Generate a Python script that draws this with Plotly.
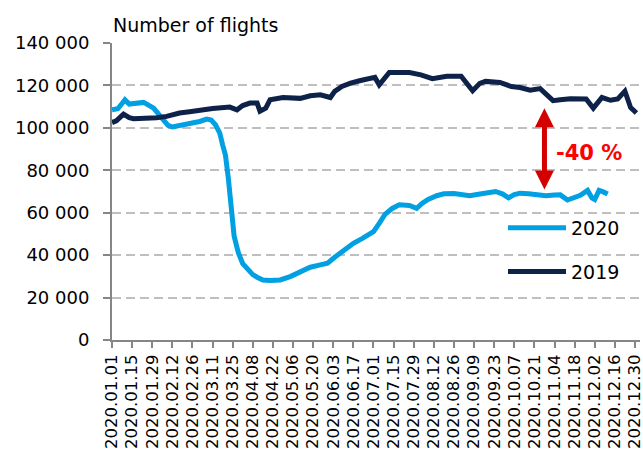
import pandas as pd
import plotly.graph_objects as go

# ---- data (day offset from 2020-01-01, number of flights) ----
days_2019 = [0, 3, 8, 12, 15, 24, 31, 38, 47, 54, 61, 70, 82, 87, 91, 96, 101, 103, 107, 110,
             119, 131, 138, 145, 152, 155, 160, 166, 173, 180, 183, 186, 193, 207, 215, 223,
             233, 243, 251, 256, 260, 270, 278, 284, 291, 298, 301, 307, 312, 319, 330, 335,
             341, 347, 352, 357, 361, 365]
flights_2019 = [102500, 103300, 106500, 104800, 104300, 104400, 104800, 105400, 107000, 107600,
                108500, 109100, 109800, 108500, 110500, 111700, 111700, 107900, 109300, 113200,
                114300, 113900, 115100, 115600, 114300, 117200, 119500, 121100, 122300, 123000,
                123800, 120300, 126100, 126100, 125000, 123200, 124300, 124300, 117500, 121000,
                121900, 121400, 119500, 119000, 117800, 118500, 116500, 112800, 113200, 113700,
                113600, 109300, 114300, 113000, 113600, 117300, 109500, 107000]

days_2020 = [0, 4, 7, 9, 12, 17, 22, 26, 29, 33, 36, 39, 42, 47, 52, 57, 61, 66, 69, 72, 75,
             77, 79, 81, 82, 83, 84, 85, 87, 88, 91, 94, 98, 101, 105, 110, 117, 124, 131, 138,
             145, 150, 155, 159, 164, 168, 174, 180, 182, 186, 190, 195, 200, 207, 212, 216,
             220, 226, 231, 238, 245, 249, 255, 261, 267, 272, 276, 280, 284, 290, 296, 302,
             308, 312, 317, 321, 326, 331, 334, 336, 339, 342, 345]
flights_2020 = [108500, 109000, 111500, 113200, 111200, 111500, 112000, 110500, 109300, 106000,
                103800, 101200, 100400, 101000, 101900, 102600, 103000, 104100, 103700, 101500,
                97500, 92000, 87000, 76000, 69000, 61000, 53000, 49000, 43500, 41000, 36000,
                33500, 30800, 29600, 28300, 28000, 28300, 29900, 32200, 34300, 35400, 36200,
                39000, 41200, 44000, 45600, 47800, 49800, 51100, 55000, 59200, 62000, 63700,
                63400, 62100, 64500, 66300, 68000, 68900, 69000, 68400, 68000, 68700, 69500,
                70000, 68800, 67000, 68500, 69200, 68900, 68500, 68000, 68300, 68400, 66000,
                67000, 68200, 70500, 67000, 66200, 70500, 69800, 68800]

series_names = ["2020", "2019"]
y_title = "Number of flights"
change_label = "-40 %"
arrow_day = 301
arrow_top_value = 110000
arrow_bottom_value = 70900
label_day = 332
label_value = 88200

base = pd.Timestamp("2020-01-01")
to_dates = lambda d: base + pd.to_timedelta(d, unit="D")

FONT = "DejaVu Sans"
C2020 = "#00A0E3"
C2019 = "#0D2149"

fig = go.Figure()
fig.add_trace(go.Scatter(x=to_dates(days_2020), y=flights_2020, mode="lines", name=series_names[0],
                         line=dict(color=C2020, width=5), legendgroup="a"))
fig.add_trace(go.Scatter(x=to_dates(days_2019), y=flights_2019, mode="lines", name=series_names[1],
                         line=dict(color=C2019, width=5), legendgroup="b"))

fig.add_annotation(x=to_dates(arrow_day), y=arrow_bottom_value, ax=to_dates(arrow_day), ay=arrow_top_value,
                   xref="x", yref="y", axref="x", ayref="y", text="", showarrow=True,
                   arrowhead=2, startarrowhead=2, arrowside="end+start", arrowsize=0.76,
                   startarrowsize=0.76, arrowwidth=5, arrowcolor="#D40000", standoff=0, startstandoff=0)
fig.add_annotation(x=to_dates(label_day), y=label_value, xref="x", yref="y", text="<b>" + change_label + "</b>",
                   showarrow=False, font=dict(family=FONT, size=21, color="#FF0000"), xanchor="center", yanchor="middle")

fig.update_layout(
    width=643, height=450,
    margin=dict(l=112, r=3, t=43, b=110, autoexpand=False),
    paper_bgcolor="white", plot_bgcolor="white",
    separators=". ",
    font=dict(family=FONT, size=18, color="#000000"),
    title=dict(text=y_title, x=113 / 643, xref="container", xanchor="left", y=1 - 25 / 450, yanchor="middle",
               yref="container", pad=dict(l=0, r=0, t=0, b=0),
               font=dict(family=FONT, size=19, color="#000000")),
    showlegend=True,
    legend=dict(x=(503 - 112) / 528, y=(340 - 209) / 297, xanchor="left", yanchor="top",
                font=dict(family=FONT, size=19), traceorder="grouped", tracegroupgap=16,
                itemwidth=58, bgcolor="rgba(0,0,0,0)", borderwidth=0),
)
fig.update_xaxes(type="date", range=[base, base + pd.Timedelta(days=367.5)], automargin=False,
                 tick0="2020-01-01", dtick=14 * 86400000, tickformat="%Y.%m.%d", tickangle=-90,
                 ticks="outside", ticklen=6, tickwidth=1.5, tickcolor="#868686", ticklabeloverflow="allow",
                 showline=True, linecolor="#868686", linewidth=2, showgrid=False, zeroline=False,
                 tickfont=dict(family=FONT, size=16.5), ticklabelstandoff=0)
fig.update_yaxes(range=[0, 140000], dtick=20000, tickformat=",d", ticks="outside", ticklen=7, automargin=False,
                 tickwidth=1.5, tickcolor="#868686", showline=True, linecolor="#868686", linewidth=2,
                 showgrid=True, gridcolor="#BFBFBF", gridwidth=1.5, griddash="9px,5px", zeroline=False,
                 tickfont=dict(family=FONT, size=18), ticklabelstandoff=10)

fig.write_html("out.html", config={"displayModeBar": False},
               post_script="document.body.style.margin='0px';document.body.style.overflow='hidden';")
